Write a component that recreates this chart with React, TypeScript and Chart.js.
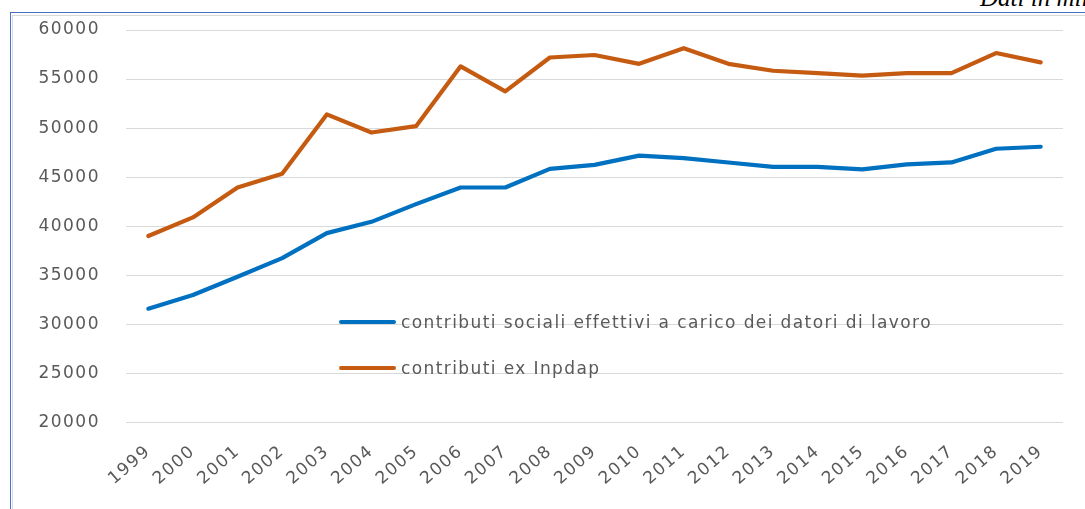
import React, { useEffect, useRef } from "react";
import { Chart, registerables } from "chart.js";

Chart.register(...registerables);

const years = ["1999","2000","2001","2002","2003","2004","2005","2006","2007","2008","2009","2010","2011","2012","2013","2014","2015","2016","2017","2018","2019"];
const contributiSociali = [31600,33000,34850,36750,39300,40450,42250,43950,43950,45850,46250,47200,46950,46500,46050,46050,45800,46300,46500,47900,48100];
const contributiInpdap = [39000,40900,43950,45350,51400,49550,50200,56300,53750,57200,57450,56550,58150,56550,55850,55600,55350,55600,55600,57650,56700];
const legendLabels = ["contributi sociali effettivi a carico dei datori di lavoro", "contributi ex Inpdap"];
const seriesColors = ["#0070C0", "#C55A11"];
const yMin = 20000;
const yMax = 60000;
const yStep = 5000;

const FONT = "'DejaVu Sans', sans-serif";

const spacingPlugin = {
  id: "letterSpacing",
  beforeLayout(chart: any) {
    chart.ctx.letterSpacing = "1.5px";
  },
  beforeDraw(chart: any) {
    chart.ctx.letterSpacing = "1.5px";
  },
};

export default function App() {
  const ref = useRef<HTMLCanvasElement | null>(null);

  useEffect(() => {
    if (!ref.current) return;
    const chart = new Chart(ref.current, {
      type: "line",
      data: {
        labels: years,
        datasets: [
          {
            label: legendLabels[0],
            data: contributiSociali,
            borderColor: seriesColors[0],
            backgroundColor: seriesColors[0],
            borderWidth: 4.2,
            pointRadius: 0,
            borderCapStyle: "round",
            borderJoinStyle: "round",
            tension: 0,
          },
          {
            label: legendLabels[1],
            data: contributiInpdap,
            borderColor: seriesColors[1],
            backgroundColor: seriesColors[1],
            borderWidth: 4.2,
            pointRadius: 0,
            borderCapStyle: "round",
            borderJoinStyle: "round",
            tension: 0,
          },
        ],
      },
      options: {
        animation: false,
        responsive: true,
        maintainAspectRatio: false,
        layout: { padding: { top: 30, right: 22, bottom: 0, left: 0 } },
        plugins: {
          legend: { display: false },
          tooltip: { enabled: false },
          title: { display: false },
        },
        scales: {
          x: {
            offset: true,
            grid: { display: false, drawTicks: false },
            border: { display: false },
            ticks: {
              minRotation: 41,
              maxRotation: 41,
              autoSkip: false,
              padding: 19,
              color: "#595959",
              font: { family: FONT, size: 17 },
            },
            afterFit: (s: any) => {
              s.height = 86.5;
            },
          },
          y: {
            min: yMin,
            max: yMax,
            grid: { color: "#d9d9d9", lineWidth: 1, drawTicks: false },
            border: { display: false },
            ticks: {
              stepSize: yStep,
              padding: 26,
              color: "#595959",
              font: { family: FONT, size: 17 },
              callback: (v: any) => String(v),
            },
            afterFit: (s: any) => {
              s.width = 126;
              s.paddingTop = 11;
              s.paddingBottom = 11;
            },
          },
        },
      },
      plugins: [spacingPlugin],
    });
    return () => chart.destroy();
  }, []);

  return (
    <div style={{ position: "absolute", left: 0, top: 0, width: 1085, height: 509, overflow: "hidden", background: "#fff" }}>
      <div style={{ position: "absolute", left: 10, top: 12, width: 1200, height: 700, border: "1.5px solid #4472C4", boxSizing: "border-box" }} />
      <div style={{ position: "absolute", left: 12, top: 15, width: 1200, height: 700, borderTop: "1px solid #d9d9d9", borderLeft: "1px solid #d9d9d9", boxSizing: "border-box" }} />
      <div style={{ position: "absolute", left: 980, top: -15, fontFamily: "'Liberation Serif', serif", fontStyle: "italic", fontSize: 25, lineHeight: "25px", whiteSpace: "nowrap", color: "#000" }}>
        Dati in milioni di euro
      </div>
      <div style={{ position: "absolute", left: 0, top: 0, width: 1085, height: 509 }}>
        <canvas ref={ref} />
      </div>
      {legendLabels.map((lab, i) => (
        <div key={lab} style={{ position: "absolute", left: 339, top: 312 + i * 46, height: 20, display: "flex", alignItems: "center", fontFamily: FONT, fontSize: 17, letterSpacing: "1.4px", color: "#595959", whiteSpace: "nowrap" }}>
          <span style={{ display: "inline-block", width: 57, height: 4.2, borderRadius: 3, background: seriesColors[i], marginRight: 5 }} />
          <span>{lab}</span>
        </div>
      ))}
    </div>
  );
}
